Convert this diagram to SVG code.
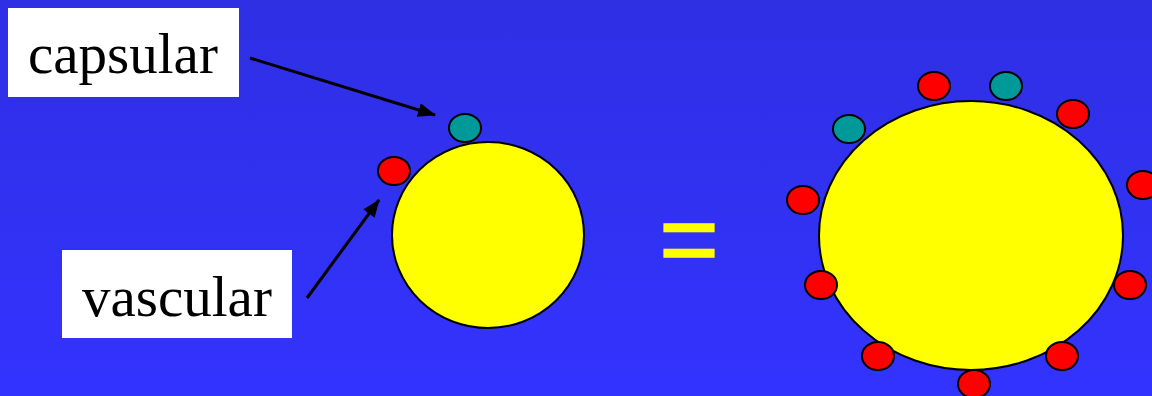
<svg xmlns="http://www.w3.org/2000/svg" width="1152" height="396" viewBox="0 0 1152 396">
  <defs>
    <linearGradient id="bg" x1="0" y1="0" x2="0" y2="1">
      <stop offset="0" stop-color="#2f2fe4"/>
      <stop offset="1" stop-color="#3333ff"/>
    </linearGradient>
    <marker id="arr" viewBox="0 0 18 14" refX="17" refY="7" markerWidth="18" markerHeight="14" markerUnits="userSpaceOnUse" orient="auto">
      <path d="M0,0 L18,7 L0,14 Z" fill="#000"/>
    </marker>
  </defs>
  <style>
    .box { fill: #ffffff; }
    .lbl { font-family: "Liberation Serif", "Times New Roman", serif; font-size: 57px; fill: #000; }
    .cell { fill: #ffff00; stroke: #000; stroke-width: 2; }
    .red { fill: #ff0000; stroke: #000; stroke-width: 2; }
    .teal { fill: #009999; stroke: #000; stroke-width: 2; }
    .conn { stroke: #000; stroke-width: 3; fill: none; marker-end: url(#arr); }
    .eq { font-family: "Liberation Sans", Arial, sans-serif; font-size: 102px; fill: #ffff00; stroke: #ffff00; stroke-width: 1.6; }
  </style>
  <rect width="1152" height="396" fill="url(#bg)"/>

  <g id="label-capsular">
    <rect class="box" x="8" y="8" width="231" height="89"/>
    <text class="lbl" x="28" y="73">capsular</text>
  </g>
  <g id="label-vascular">
    <rect class="box" x="62" y="250" width="230" height="88"/>
    <text class="lbl" x="82" y="316">vascular</text>
  </g>

  <g id="small-cell">
    <ellipse class="cell" cx="488" cy="235" rx="96" ry="93"/>
    <ellipse class="teal" cx="465" cy="128" rx="16" ry="14"/>
    <ellipse class="red" cx="394" cy="171" rx="16" ry="14"/>
  </g>

  <g id="equals">
    <text class="eq" x="689" y="274" text-anchor="middle">=</text>
  </g>

  <g id="large-cell">
    <ellipse class="cell" cx="971" cy="235.5" rx="152" ry="134.5"/>
    <ellipse class="red" cx="934" cy="86" rx="16" ry="14"/>
    <ellipse class="teal" cx="1006" cy="86" rx="16" ry="14"/>
    <ellipse class="red" cx="1073" cy="114" rx="16" ry="14"/>
    <ellipse class="teal" cx="849" cy="129" rx="16" ry="14"/>
    <ellipse class="red" cx="1143" cy="185" rx="16" ry="14"/>
    <ellipse class="red" cx="803" cy="200" rx="16" ry="14"/>
    <ellipse class="red" cx="821" cy="285" rx="16" ry="14"/>
    <ellipse class="red" cx="1130" cy="285" rx="16" ry="14"/>
    <ellipse class="red" cx="878" cy="356" rx="16" ry="14"/>
    <ellipse class="red" cx="1062" cy="356" rx="16" ry="14"/>
    <ellipse class="red" cx="974" cy="384" rx="16" ry="14"/>
  </g>

  <g id="connectors">
    <line class="conn" x1="250" y1="58" x2="435" y2="115"/>
    <line class="conn" x1="307" y1="298" x2="379" y2="200"/>
  </g>
</svg>
